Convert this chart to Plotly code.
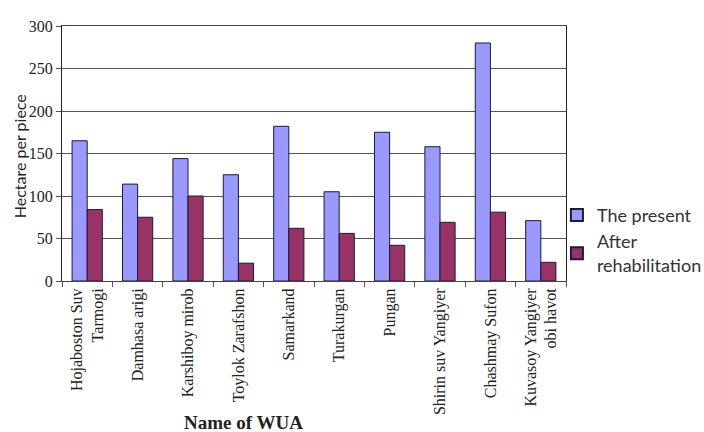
import plotly.graph_objects as go

# Water users' associations and average area served per piece (hectares)
wua_names = [
    "Hojaboston Suv<br>Tarmogi",
    "Damhasa arigi",
    "Karshiboy mirob",
    "Toylok Zarafshon",
    "Samarkand",
    "Turakurgan",
    "Pungan",
    "Shirin suv Yangiyer",
    "Chashmay Sufon",
    "Kuvasoy Yangiyer<br>obi havot",
]
present = [165, 114, 144, 125, 182, 105, 175, 158, 280, 71]
after_rehab = [84, 75, 100, 21, 62, 56, 42, 69, 81, 22]

y_ticks = [0, 50, 100, 150, 200, 250, 300]

fig = go.Figure()
fig.add_trace(go.Bar(
    x=wua_names, y=present, name="The present",
    marker=dict(color="#9999FF", line=dict(color="#1a1a40", width=1)),
))
fig.add_trace(go.Bar(
    x=wua_names, y=after_rehab, name="After<br>rehabilitation",
    marker=dict(color="#993366", line=dict(color="#1a1a40", width=1)),
))

fig.update_layout(
    width=704, height=432,
    margin=dict(l=62, r=138, t=26, b=151, autoexpand=False),
    paper_bgcolor="white", plot_bgcolor="white",
    barmode="group", bargap=0.4, bargroupgap=0,
    showlegend=True,
    legend=dict(
        x=0.982, xanchor="left", y=0.33, yanchor="top",
        font=dict(family="Lato", size=18, color="#333333"),
        itemsizing="constant", tracegroupgap=0,
        bgcolor="rgba(0,0,0,0)",
    ),
    xaxis=dict(
        type="category",
        tickangle=-90,
        tickfont=dict(family="Liberation Serif", size=16, color="#222222"),
        ticks="outside", tickson="boundaries", ticklen=5, tickcolor="#555555",
        showline=True, linecolor="#444444", linewidth=1, mirror=True,
        showgrid=False,
    ),
    yaxis=dict(
        range=[0, 300],
        tickvals=y_ticks,
        tickfont=dict(family="Liberation Serif", size=16, color="#222222"),
        ticks="outside", ticklen=5, tickcolor="#555555",
        showline=True, linecolor="#222222", linewidth=1, mirror=True,
        showgrid=True, gridcolor="#555555", gridwidth=1,
        zeroline=False,
    ),
)

# Axis titles
fig.add_annotation(
    text="Hectare per piece", xref="paper", yref="paper",
    x=-0.085, y=0.49, xanchor="center", yanchor="middle",
    textangle=-90, showarrow=False,
    font=dict(family="Lato", size=16, color="#222222"),
)
fig.add_annotation(
    text="<b>Name of WUA</b>", xref="paper", yref="paper",
    x=0.361, y=-0.555, xanchor="center", yanchor="middle",
    showarrow=False,
    font=dict(family="Liberation Serif", size=19, color="#222222"),
)

fig.write_html("out.html")
